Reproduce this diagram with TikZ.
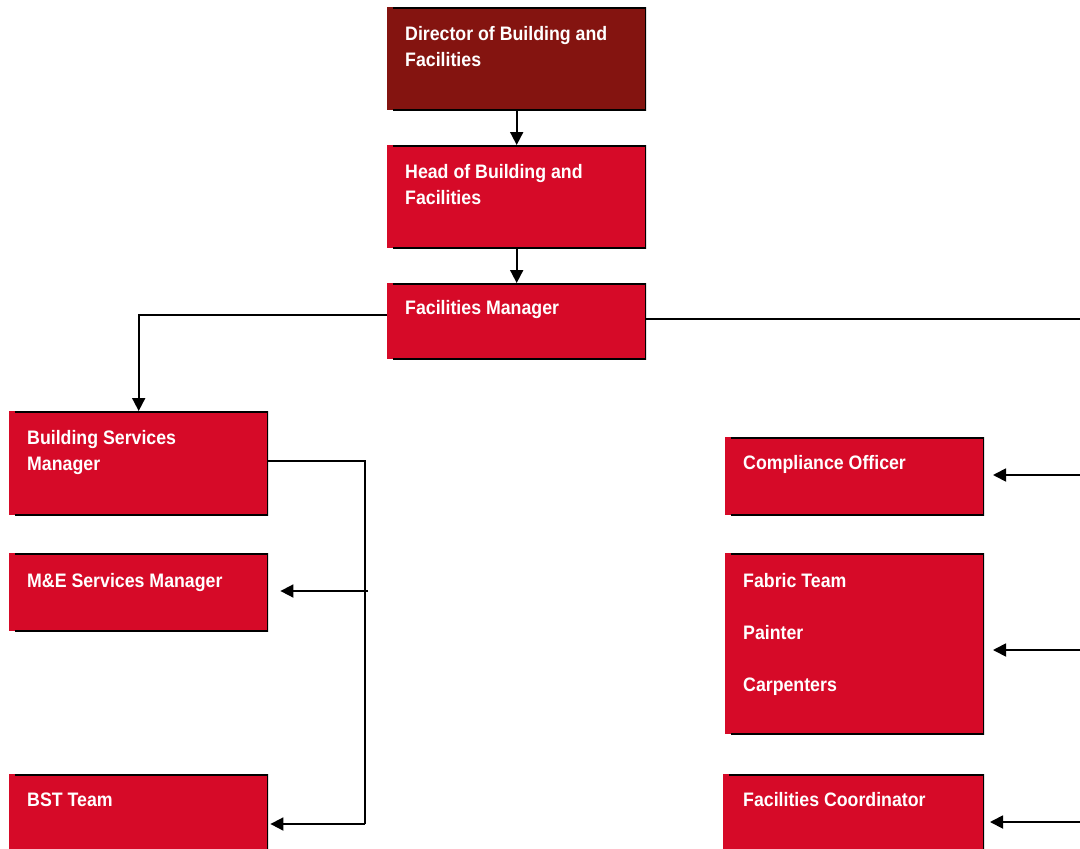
\documentclass[tikz,border=0pt]{standalone}
\usepackage{fontspec}
\setmainfont{Liberation Sans}[FakeStretch=0.91]
\usetikzlibrary{arrows.meta}
\definecolor{darkbox}{RGB}{132,20,16}
\definecolor{redbox}{RGB}{214,10,40}
\tikzset{
  orgbox/.style={rectangle, inner sep=0pt, anchor=north west, fill=redbox, draw=none,
    path picture={\draw[black, line width=3pt]
      ([xshift=6pt]path picture bounding box.north west) -- (path picture bounding box.north east)
      -- (path picture bounding box.south east) -- ([xshift=6pt]path picture bounding box.south west);}},
  orgtext/.style={anchor=base west, inner sep=0pt, text=white, align=left,
    font=\fontsize{19.5}{26}\selectfont\bfseries},
  conn/.style={draw=black, line width=1.8pt},
  arr/.style={conn, -{Triangle[length=13pt,width=13pt]}},
}
\begin{document}
\begin{tikzpicture}[x=1pt,y=-1pt]
\useasboundingbox (0,0) rectangle (1080,849);
\clip (0,0) rectangle (1080,849);
% boxes
\node[orgbox, fill=darkbox, minimum width=259pt, minimum height=103pt] (dir) at (387,7) {};
\node[orgbox, minimum width=259pt, minimum height=103pt] (head) at (387,145) {};
\node[orgbox, minimum width=259pt, minimum height=76pt] (fm) at (387,283) {};
\node[orgbox, minimum width=259pt, minimum height=104pt] (bsm) at (9,411) {};
\node[orgbox, minimum width=259pt, minimum height=78pt] (me) at (9,553) {};
\node[orgbox, minimum width=259pt, minimum height=110pt] (bst) at (9,774) {};
\node[orgbox, minimum width=259pt, minimum height=78pt] (co) at (725,437) {};
\node[orgbox, minimum width=259pt, minimum height=181pt] (fab) at (725,553) {};
\node[orgbox, minimum width=261pt, minimum height=110pt] (fc) at (723,774) {};
% texts (base anchor = baseline of last line)
\node[orgtext] (tdir) at (405,66) {Director of Building and\\Facilities};
\node[orgtext] (thead) at (405,204) {Head of Building and\\Facilities};
\node[orgtext] (tfm) at (405,314) {Facilities Manager};
\node[orgtext] (tbsm) at (27,470) {Building Services\\Manager};
\node[orgtext] (tme) at (27,587) {M\&E Services Manager};
\node[orgtext] (tbst) at (27,806) {BST Team};
\node[orgtext] (tco) at (743,469) {Compliance Officer};
\node[orgtext, font=\fontsize{19.5}{52}\selectfont\bfseries] (tfab) at (743,691) {Fabric Team\\Painter\\Carpenters};
\node[orgtext] (tfc) at (743,806) {Facilities Coordinator};
% coordinates
\coordinate (jl) at (140,315);
\coordinate (rt) at (1082,319);
\coordinate (j1) at (365,461);
\coordinate (j2) at (365,824);
\coordinate (r1) at (1082,475);
\coordinate (r2) at (1082,650);
\coordinate (r3) at (1082,822);
\coordinate (a1) at (993,475);
\coordinate (a2) at (993,650);
\coordinate (a3) at (990,822);
% connectors
\draw[arr] (dir.south) -- (head.north);
\draw[arr] (head.south) -- (fm.north);
\draw[arr] (fm.west |- jl) -| (bsm.north);
\draw[conn] (fm.east |- rt) -- (rt);
\draw[conn] (bsm.east |- j1) -- (j1) -- (j2);
\draw[arr] ([xshift=3pt]j1 |- 0,591) -- ([xshift=12pt]me.east |- 0,591);
\draw[arr] (j2) -- ([xshift=2pt]bst.east |- j2);
\draw[arr] (r1) -- (a1);
\draw[arr] (r2) -- (a2);
\draw[arr] (r3) -- (a3);
\end{tikzpicture}
\end{document}
